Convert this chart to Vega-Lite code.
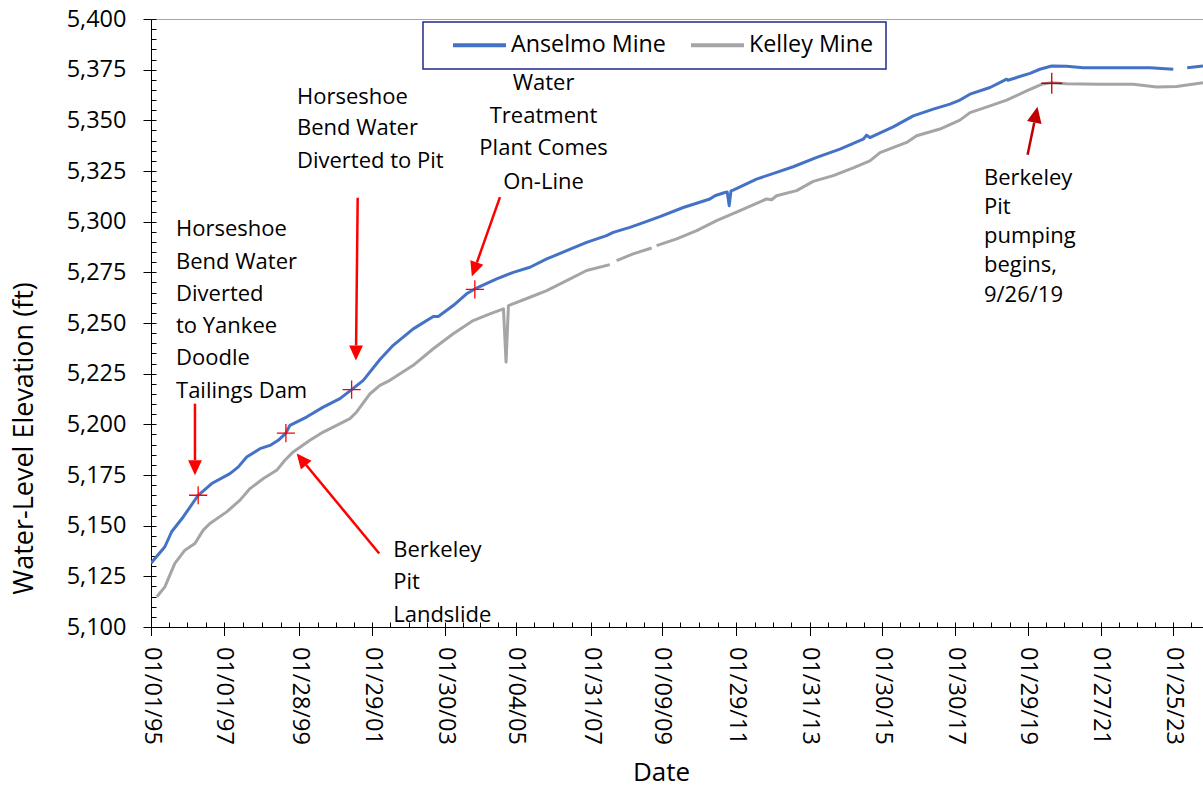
{
  "$schema": "https://vega.github.io/schema/vega-lite/v6.json",
  "width": 1052,
  "height": 608,
  "autosize": {"type": "none"},
  "padding": {"left": 151, "top": 19, "right": 0, "bottom": 160},
  "config": {
    "view": {"stroke": null},
    "font": "Open Sans",
    "axis": {"labelFont": "Open Sans", "titleFont": "Open Sans", "labelColor": "#000", "titleColor": "#000", "tickColor": "#000", "domainColor": "#000", "grid": false}
  },
  "datasets": {
    "levels": [
      {"date": "1995-01-01", "mine": "Anselmo Mine", "elev": 5131.5},
      {"date": "1995-05-20", "mine": "Anselmo Mine", "elev": 5139.6},
      {"date": "1995-07-27", "mine": "Anselmo Mine", "elev": 5147.0},
      {"date": "1995-11-20", "mine": "Anselmo Mine", "elev": 5154.3},
      {"date": "1996-04-18", "mine": "Anselmo Mine", "elev": 5165.0},
      {"date": "1996-09-01", "mine": "Anselmo Mine", "elev": 5170.8},
      {"date": "1997-03-03", "mine": "Anselmo Mine", "elev": 5175.7},
      {"date": "1997-05-26", "mine": "Anselmo Mine", "elev": 5179.0},
      {"date": "1997-08-18", "mine": "Anselmo Mine", "elev": 5183.9},
      {"date": "1997-12-29", "mine": "Anselmo Mine", "elev": 5188.0},
      {"date": "1998-04-08", "mine": "Anselmo Mine", "elev": 5189.6},
      {"date": "1998-06-30", "mine": "Anselmo Mine", "elev": 5192.1},
      {"date": "1998-09-15", "mine": "Anselmo Mine", "elev": 5195.7},
      {"date": "1998-10-25", "mine": "Anselmo Mine", "elev": 5199.5},
      {"date": "1999-04-10", "mine": "Anselmo Mine", "elev": 5203.6},
      {"date": "1999-09-24", "mine": "Anselmo Mine", "elev": 5208.5},
      {"date": "2000-03-10", "mine": "Anselmo Mine", "elev": 5212.7},
      {"date": "2000-07-05", "mine": "Anselmo Mine", "elev": 5217.1},
      {"date": "2000-10-30", "mine": "Anselmo Mine", "elev": 5221.7},
      {"date": "2001-04-15", "mine": "Anselmo Mine", "elev": 5232.0},
      {"date": "2001-08-26", "mine": "Anselmo Mine", "elev": 5239.0},
      {"date": "2002-03-15", "mine": "Anselmo Mine", "elev": 5247.1},
      {"date": "2002-10-02", "mine": "Anselmo Mine", "elev": 5253.2},
      {"date": "2002-11-21", "mine": "Anselmo Mine", "elev": 5253.2},
      {"date": "2003-04-20", "mine": "Anselmo Mine", "elev": 5258.6},
      {"date": "2003-09-01", "mine": "Anselmo Mine", "elev": 5264.4},
      {"date": "2003-11-23", "mine": "Anselmo Mine", "elev": 5266.8},
      {"date": "2004-06-29", "mine": "Anselmo Mine", "elev": 5271.8},
      {"date": "2004-12-13", "mine": "Anselmo Mine", "elev": 5275.0},
      {"date": "2005-05-29", "mine": "Anselmo Mine", "elev": 5277.5},
      {"date": "2005-11-13", "mine": "Anselmo Mine", "elev": 5281.6},
      {"date": "2006-06-01", "mine": "Anselmo Mine", "elev": 5285.7},
      {"date": "2006-12-18", "mine": "Anselmo Mine", "elev": 5289.8},
      {"date": "2007-07-06", "mine": "Anselmo Mine", "elev": 5293.1},
      {"date": "2007-09-11", "mine": "Anselmo Mine", "elev": 5294.7},
      {"date": "2008-02-25", "mine": "Anselmo Mine", "elev": 5297.2},
      {"date": "2008-06-04", "mine": "Anselmo Mine", "elev": 5298.9},
      {"date": "2008-12-22", "mine": "Anselmo Mine", "elev": 5302.5},
      {"date": "2009-08-13", "mine": "Anselmo Mine", "elev": 5307.0},
      {"date": "2010-05-08", "mine": "Anselmo Mine", "elev": 5311.2},
      {"date": "2010-06-27", "mine": "Anselmo Mine", "elev": 5312.8},
      {"date": "2010-10-05", "mine": "Anselmo Mine", "elev": 5314.4},
      {"date": "2010-10-28", "mine": "Anselmo Mine", "elev": 5314.6},
      {"date": "2010-11-17", "mine": "Anselmo Mine", "elev": 5307.9},
      {"date": "2010-12-05", "mine": "Anselmo Mine", "elev": 5315.2},
      {"date": "2010-12-27", "mine": "Anselmo Mine", "elev": 5315.6},
      {"date": "2011-08-18", "mine": "Anselmo Mine", "elev": 5321.0},
      {"date": "2012-03-06", "mine": "Anselmo Mine", "elev": 5324.3},
      {"date": "2012-08-20", "mine": "Anselmo Mine", "elev": 5327.1},
      {"date": "2013-04-13", "mine": "Anselmo Mine", "elev": 5331.7},
      {"date": "2013-12-02", "mine": "Anselmo Mine", "elev": 5335.8},
      {"date": "2014-07-23", "mine": "Anselmo Mine", "elev": 5340.7},
      {"date": "2014-08-26", "mine": "Anselmo Mine", "elev": 5342.7},
      {"date": "2014-09-28", "mine": "Anselmo Mine", "elev": 5341.5},
      {"date": "2015-05-20", "mine": "Anselmo Mine", "elev": 5346.8},
      {"date": "2015-12-07", "mine": "Anselmo Mine", "elev": 5352.2},
      {"date": "2016-06-25", "mine": "Anselmo Mine", "elev": 5355.5},
      {"date": "2016-12-09", "mine": "Anselmo Mine", "elev": 5358.0},
      {"date": "2017-03-19", "mine": "Anselmo Mine", "elev": 5360.0},
      {"date": "2017-06-28", "mine": "Anselmo Mine", "elev": 5362.9},
      {"date": "2018-01-15", "mine": "Anselmo Mine", "elev": 5366.2},
      {"date": "2018-05-28", "mine": "Anselmo Mine", "elev": 5369.5},
      {"date": "2018-07-01", "mine": "Anselmo Mine", "elev": 5370.3},
      {"date": "2018-07-14", "mine": "Anselmo Mine", "elev": 5369.8},
      {"date": "2019-02-20", "mine": "Anselmo Mine", "elev": 5373.2},
      {"date": "2019-05-30", "mine": "Anselmo Mine", "elev": 5375.2},
      {"date": "2019-09-25", "mine": "Anselmo Mine", "elev": 5376.8},
      {"date": "2020-02-22", "mine": "Anselmo Mine", "elev": 5376.7},
      {"date": "2020-08-07", "mine": "Anselmo Mine", "elev": 5376.0},
      {"date": "2021-07-08", "mine": "Anselmo Mine", "elev": 5376.0},
      {"date": "2022-06-07", "mine": "Anselmo Mine", "elev": 5376.0},
      {"date": "2023-01-27", "mine": "Anselmo Mine", "elev": 5375.2},
      {"date": "2023-03-30", "mine": "Anselmo Mine", "elev": null},
      {"date": "2023-06-16", "mine": "Anselmo Mine", "elev": 5376.0},
      {"date": "2023-11-21", "mine": "Anselmo Mine", "elev": 5376.8},
      {"date": "1995-03-01", "mine": "Kelley Mine", "elev": 5114.9},
      {"date": "1995-05-20", "mine": "Kelley Mine", "elev": 5119.8},
      {"date": "1995-08-28", "mine": "Kelley Mine", "elev": 5131.4},
      {"date": "1995-12-07", "mine": "Kelley Mine", "elev": 5137.9},
      {"date": "1996-03-16", "mine": "Kelley Mine", "elev": 5141.2},
      {"date": "1996-06-08", "mine": "Kelley Mine", "elev": 5147.8},
      {"date": "1996-08-14", "mine": "Kelley Mine", "elev": 5151.1},
      {"date": "1997-01-29", "mine": "Kelley Mine", "elev": 5156.8},
      {"date": "1997-06-12", "mine": "Kelley Mine", "elev": 5162.6},
      {"date": "1997-09-20", "mine": "Kelley Mine", "elev": 5168.3},
      {"date": "1998-02-01", "mine": "Kelley Mine", "elev": 5173.3},
      {"date": "1998-06-14", "mine": "Kelley Mine", "elev": 5177.3},
      {"date": "1998-09-05", "mine": "Kelley Mine", "elev": 5182.3},
      {"date": "1998-11-27", "mine": "Kelley Mine", "elev": 5186.4},
      {"date": "1999-05-14", "mine": "Kelley Mine", "elev": 5192.1},
      {"date": "1999-09-24", "mine": "Kelley Mine", "elev": 5196.2},
      {"date": "2000-02-06", "mine": "Kelley Mine", "elev": 5199.5},
      {"date": "2000-06-18", "mine": "Kelley Mine", "elev": 5202.8},
      {"date": "2000-08-25", "mine": "Kelley Mine", "elev": 5206.1},
      {"date": "2001-01-06", "mine": "Kelley Mine", "elev": 5215.1},
      {"date": "2001-04-15", "mine": "Kelley Mine", "elev": 5219.2},
      {"date": "2001-07-24", "mine": "Kelley Mine", "elev": 5221.7},
      {"date": "2002-03-15", "mine": "Kelley Mine", "elev": 5229.1},
      {"date": "2002-10-02", "mine": "Kelley Mine", "elev": 5237.3},
      {"date": "2003-04-20", "mine": "Kelley Mine", "elev": 5244.7},
      {"date": "2003-11-06", "mine": "Kelley Mine", "elev": 5251.2},
      {"date": "2004-04-22", "mine": "Kelley Mine", "elev": 5254.5},
      {"date": "2004-09-05", "mine": "Kelley Mine", "elev": 5257.0},
      {"date": "2004-10-01", "mine": "Kelley Mine", "elev": 5230.7},
      {"date": "2004-10-25", "mine": "Kelley Mine", "elev": 5258.6},
      {"date": "2005-05-29", "mine": "Kelley Mine", "elev": 5262.7},
      {"date": "2005-11-13", "mine": "Kelley Mine", "elev": 5266.0},
      {"date": "2006-06-01", "mine": "Kelley Mine", "elev": 5270.9},
      {"date": "2006-12-18", "mine": "Kelley Mine", "elev": 5275.9},
      {"date": "2007-08-08", "mine": "Kelley Mine", "elev": 5278.8},
      {"date": "2007-09-10", "mine": "Kelley Mine", "elev": null},
      {"date": "2007-10-15", "mine": "Kelley Mine", "elev": 5280.8},
      {"date": "2008-03-28", "mine": "Kelley Mine", "elev": 5284.1},
      {"date": "2008-09-30", "mine": "Kelley Mine", "elev": 5287.0},
      {"date": "2008-10-25", "mine": "Kelley Mine", "elev": null},
      {"date": "2008-11-19", "mine": "Kelley Mine", "elev": 5288.2},
      {"date": "2009-06-08", "mine": "Kelley Mine", "elev": 5291.5},
      {"date": "2009-12-26", "mine": "Kelley Mine", "elev": 5295.6},
      {"date": "2010-07-14", "mine": "Kelley Mine", "elev": 5300.5},
      {"date": "2011-03-05", "mine": "Kelley Mine", "elev": 5305.4},
      {"date": "2011-11-27", "mine": "Kelley Mine", "elev": 5311.2},
      {"date": "2012-01-17", "mine": "Kelley Mine", "elev": 5310.8},
      {"date": "2012-03-06", "mine": "Kelley Mine", "elev": 5312.8},
      {"date": "2012-09-23", "mine": "Kelley Mine", "elev": 5315.3},
      {"date": "2013-03-09", "mine": "Kelley Mine", "elev": 5319.9},
      {"date": "2013-09-26", "mine": "Kelley Mine", "elev": 5322.7},
      {"date": "2014-04-14", "mine": "Kelley Mine", "elev": 5326.5},
      {"date": "2014-09-28", "mine": "Kelley Mine", "elev": 5330.0},
      {"date": "2015-01-08", "mine": "Kelley Mine", "elev": 5334.1},
      {"date": "2015-10-02", "mine": "Kelley Mine", "elev": 5339.1},
      {"date": "2016-01-10", "mine": "Kelley Mine", "elev": 5342.4},
      {"date": "2016-08-31", "mine": "Kelley Mine", "elev": 5345.7},
      {"date": "2017-03-19", "mine": "Kelley Mine", "elev": 5350.1},
      {"date": "2017-06-28", "mine": "Kelley Mine", "elev": 5353.8},
      {"date": "2018-01-15", "mine": "Kelley Mine", "elev": 5357.1},
      {"date": "2018-07-01", "mine": "Kelley Mine", "elev": 5360.0},
      {"date": "2019-01-17", "mine": "Kelley Mine", "elev": 5364.5},
      {"date": "2019-06-16", "mine": "Kelley Mine", "elev": 5367.8},
      {"date": "2019-09-25", "mine": "Kelley Mine", "elev": 5368.6},
      {"date": "2020-02-22", "mine": "Kelley Mine", "elev": 5368.1},
      {"date": "2021-01-22", "mine": "Kelley Mine", "elev": 5367.8},
      {"date": "2021-12-21", "mine": "Kelley Mine", "elev": 5367.8},
      {"date": "2022-08-13", "mine": "Kelley Mine", "elev": 5366.5},
      {"date": "2023-03-01", "mine": "Kelley Mine", "elev": 5366.7},
      {"date": "2023-11-21", "mine": "Kelley Mine", "elev": 5368.6}
    ],
    "markers": [
      {"event": "Yankee Doodle diversion", "date": "1996-04-18", "elev": 5165.0},
      {"event": "Landslide", "date": "1998-09-15", "elev": 5195.7},
      {"event": "Pit diversion", "date": "2000-07-05", "elev": 5217.1},
      {"event": "Treatment plant", "date": "2003-11-23", "elev": 5266.6},
      {"event": "Pumping", "date": "2019-09-26", "elev": 5368.3}
    ],
    "arrows": [
      {"event": "Yankee Doodle diversion", "tailDate": "1996-03-17", "tailElev": 5210.2, "baseDate": "1996-03-17", "baseElev": 5182.3, "tipDate": "1996-03-17", "tipElev": 5174.9},
      {"event": "Pit diversion", "tailDate": "2000-09-04", "tailElev": 5311.8, "baseDate": "2000-08-19", "baseElev": 5238.9, "tipDate": "2000-08-17", "tipElev": 5231.5},
      {"event": "Treatment plant", "tailDate": "2004-08-01", "tailElev": 5312.1, "baseDate": "2003-12-13", "baseElev": 5279.8, "tipDate": "2003-10-24", "tipElev": 5272.9},
      {"event": "Landslide", "tailDate": "2001-04-08", "tailElev": 5136.3, "baseDate": "1999-04-06", "baseElev": 5179.9, "tipDate": "1999-01-01", "tipElev": 5185.6},
      {"event": "Pumping", "tailDate": "2019-01-27", "tailElev": 5333.0, "baseDate": "2019-04-04", "baseElev": 5348.9, "tipDate": "2019-05-06", "tipElev": 5356.7}
    ],
    "notesLeft": [
      {"label": "Horseshoe", "date": "1995-09-09", "elev": 5296.3},
      {"label": "Bend Water", "date": "1995-09-09", "elev": 5280.3},
      {"label": "Diverted", "date": "1995-09-09", "elev": 5264.4},
      {"label": "to Yankee", "date": "1995-09-09", "elev": 5248.4},
      {"label": "Doodle", "date": "1995-09-09", "elev": 5232.5},
      {"label": "Tailings Dam", "date": "1995-09-09", "elev": 5216.5},
      {"label": "Horseshoe", "date": "1999-01-04", "elev": 5361.5},
      {"label": "Bend Water", "date": "1999-01-04", "elev": 5346.0},
      {"label": "Diverted to Pit", "date": "1999-01-04", "elev": 5329.9},
      {"label": "Berkeley", "date": "2001-08-26", "elev": 5138.1},
      {"label": "Pit", "date": "2001-08-26", "elev": 5122.1},
      {"label": "Landslide", "date": "2001-08-26", "elev": 5105.9},
      {"label": "Berkeley", "date": "2017-11-15", "elev": 5321.7},
      {"label": "Pit", "date": "2017-11-15", "elev": 5307.2},
      {"label": "pumping", "date": "2017-11-15", "elev": 5292.8},
      {"label": "begins,", "date": "2017-11-15", "elev": 5278.4},
      {"label": "9/26/19", "date": "2017-11-15", "elev": 5263.9}
    ],
    "notesCenter": [
      {"label": "Water", "date": "2005-10-12", "elev": 5368.4},
      {"label": "Treatment", "date": "2005-10-12", "elev": 5352.2},
      {"label": "Plant Comes", "date": "2005-10-12", "elev": 5336.2},
      {"label": "On-Line", "date": "2005-10-12", "elev": 5319.8}
    ]
  },
  "resolve": {"axis": {"x": "independent", "y": "independent"}},
  "layer": [
    {
      "data": {"name": "levels"},
      "mark": {"type": "line", "strokeWidth": 3, "clip": true, "strokeJoin": "round", "invalid": "break-paths-show-domains"},
      "encoding": {
        "x": {
          "field": "date", "type": "temporal",
          "scale": {"type": "utc", "domain": [{"year": 1995, "month": 1, "date": 1, "utc": true}, {"year": 2023, "month": 11, "date": 21, "utc": true}]},
          "axis": {
            "orient": "bottom",
            "values": [
              {"year": 1995, "month": 1, "date": 1, "utc": true},
              {"year": 1997, "month": 1, "date": 1, "utc": true},
              {"year": 1999, "month": 1, "date": 28, "utc": true},
              {"year": 2001, "month": 1, "date": 29, "utc": true},
              {"year": 2003, "month": 1, "date": 30, "utc": true},
              {"year": 2005, "month": 1, "date": 4, "utc": true},
              {"year": 2007, "month": 1, "date": 31, "utc": true},
              {"year": 2009, "month": 1, "date": 9, "utc": true},
              {"year": 2011, "month": 1, "date": 29, "utc": true},
              {"year": 2013, "month": 1, "date": 31, "utc": true},
              {"year": 2015, "month": 1, "date": 30, "utc": true},
              {"year": 2017, "month": 1, "date": 30, "utc": true},
              {"year": 2019, "month": 1, "date": 29, "utc": true},
              {"year": 2021, "month": 1, "date": 27, "utc": true},
              {"year": 2023, "month": 1, "date": 25, "utc": true}
            ],
            "format": "%m/%d/%y",
            "labelAngle": 90, "labelAlign": "left", "labelBaseline": "middle",
            "labelFontSize": 23.5, "labelPadding": 11, "labelOverlap": false, "labelFlush": false, "labelBound": false,
            "tickSize": 8.5, "tickWidth": 1, "domainWidth": 1,
            "title": "Date", "titleFontSize": 26, "titleFontWeight": "normal",
            "titleX": 510, "titleY": 145, "titleAlign": "center", "titleBaseline": "middle", "titleAngle": 0
          }
        },
        "y": {
          "field": "elev", "type": "quantitative",
          "scale": {"domain": [5100, 5400], "zero": false, "nice": false},
          "axis": {
            "orient": "left",
            "values": [5100, 5125, 5150, 5175, 5200, 5225, 5250, 5275, 5300, 5325, 5350, 5375, 5400],
            "format": ",.0f",
            "labelFontSize": 23.5, "labelPadding": 17, "labelFlush": false, "labelOverlap": false,
            "tickSize": 8, "tickWidth": 1, "domainWidth": 1,
            "title": "Water-Level Elevation (ft)", "titleFontSize": 27, "titleFontWeight": "normal",
            "titleX": -127, "titleY": 419, "titleAngle": 270, "titleAlign": "center", "titleBaseline": "middle"
          }
        },
        "color": {
          "field": "mine", "type": "nominal",
          "scale": {"domain": ["Anselmo Mine", "Kelley Mine"], "range": ["#4472C4", "#A5A5A5"]},
          "legend": {
            "title": null, "orient": "none", "legendX": 272, "legendY": 3, "direction": "horizontal",
            "symbolType": "stroke", "symbolSize": 2809, "symbolStrokeWidth": 4,
            "labelFont": "Open Sans", "labelFontSize": 23.3, "labelColor": "#000", "labelLimit": 400,
            "strokeColor": "#1F2A8C", "padding": 12, "clipHeight": 22, "symbolOffset": 16, "labelOffset": 3, "columnPadding": 7,
            "encode": {"legend": {"update": {"strokeWidth": {"value": 1.5}}}}
          }
        }
      }
    },
    {
      "data": {"name": "markers"},
      "mark": {"type": "point", "shape": "M-1,0H1M0,-1V1", "filled": false, "opacity": 1, "strokeWidth": 1.3},
      "encoding": {
        "x": {
          "field": "date", "type": "temporal", "scale": {"type": "utc"},
          "axis": {
            "orient": "bottom", "labels": false, "domain": false, "grid": false, "title": null, "tickSize": -5, "tickWidth": 1,
            "values": [
              {"year": 1995, "month": 1, "date": 1, "utc": true}, {"year": 1995, "month": 7, "date": 3, "utc": true}, {"year": 1996, "month": 1, "date": 1, "utc": true}, {"year": 1996, "month": 7, "date": 2, "utc": true},
              {"year": 1997, "month": 1, "date": 1, "utc": true}, {"year": 1997, "month": 7, "date": 9, "utc": true}, {"year": 1998, "month": 1, "date": 14, "utc": true}, {"year": 1998, "month": 7, "date": 23, "utc": true},
              {"year": 1999, "month": 1, "date": 28, "utc": true}, {"year": 1999, "month": 7, "date": 30, "utc": true}, {"year": 2000, "month": 1, "date": 28, "utc": true}, {"year": 2000, "month": 7, "date": 29, "utc": true},
              {"year": 2001, "month": 1, "date": 29, "utc": true}, {"year": 2001, "month": 7, "date": 30, "utc": true}, {"year": 2002, "month": 1, "date": 29, "utc": true}, {"year": 2002, "month": 7, "date": 31, "utc": true},
              {"year": 2003, "month": 1, "date": 30, "utc": true}, {"year": 2003, "month": 7, "date": 25, "utc": true}, {"year": 2004, "month": 1, "date": 17, "utc": true}, {"year": 2004, "month": 7, "date": 11, "utc": true},
              {"year": 2005, "month": 1, "date": 4, "utc": true}, {"year": 2005, "month": 7, "date": 12, "utc": true}, {"year": 2006, "month": 1, "date": 17, "utc": true}, {"year": 2006, "month": 7, "date": 25, "utc": true},
              {"year": 2007, "month": 1, "date": 31, "utc": true}, {"year": 2007, "month": 7, "date": 27, "utc": true}, {"year": 2008, "month": 1, "date": 20, "utc": true}, {"year": 2008, "month": 7, "date": 15, "utc": true},
              {"year": 2009, "month": 1, "date": 9, "utc": true}, {"year": 2009, "month": 7, "date": 15, "utc": true}, {"year": 2010, "month": 1, "date": 18, "utc": true}, {"year": 2010, "month": 7, "date": 24, "utc": true},
              {"year": 2011, "month": 1, "date": 29, "utc": true}, {"year": 2011, "month": 7, "date": 31, "utc": true}, {"year": 2012, "month": 1, "date": 30, "utc": true}, {"year": 2012, "month": 7, "date": 31, "utc": true},
              {"year": 2013, "month": 1, "date": 31, "utc": true}, {"year": 2013, "month": 8, "date": 1, "utc": true}, {"year": 2014, "month": 1, "date": 30, "utc": true}, {"year": 2014, "month": 7, "date": 31, "utc": true},
              {"year": 2015, "month": 1, "date": 30, "utc": true}, {"year": 2015, "month": 7, "date": 31, "utc": true}, {"year": 2016, "month": 1, "date": 30, "utc": true}, {"year": 2016, "month": 7, "date": 30, "utc": true},
              {"year": 2017, "month": 1, "date": 30, "utc": true}, {"year": 2017, "month": 7, "date": 31, "utc": true}, {"year": 2018, "month": 1, "date": 29, "utc": true}, {"year": 2018, "month": 7, "date": 30, "utc": true},
              {"year": 2019, "month": 1, "date": 29, "utc": true}, {"year": 2019, "month": 7, "date": 30, "utc": true}, {"year": 2020, "month": 1, "date": 28, "utc": true}, {"year": 2020, "month": 7, "date": 28, "utc": true},
              {"year": 2021, "month": 1, "date": 27, "utc": true}, {"year": 2021, "month": 7, "date": 28, "utc": true}, {"year": 2022, "month": 1, "date": 26, "utc": true}, {"year": 2022, "month": 7, "date": 27, "utc": true},
              {"year": 2023, "month": 1, "date": 25, "utc": true}, {"year": 2023, "month": 7, "date": 26, "utc": true}
            ]
          }
        },
        "y": {
          "field": "elev", "type": "quantitative",
          "axis": {"orient": "left", "labels": false, "domain": false, "grid": false, "title": null, "tickSize": -5, "tickWidth": 1, "tickCount": 60}
        },
        "color": {"condition": {"test": "datum.event === 'Pumping'", "value": "#C00000"}, "value": "#FF0000"},
        "size": {"condition": {"test": "datum.event === 'Pumping'", "value": 441}, "value": 330}
      }
    },
    {
      "data": {"name": "arrows"},
      "mark": {"type": "rule", "strokeWidth": 2.5},
      "encoding": {
        "x": {"field": "tailDate", "type": "temporal", "scale": {"type": "utc"},
              "axis": {"orient": "top", "labels": false, "ticks": false, "grid": false, "title": null, "domain": true, "domainColor": "#A6A6A6", "domainWidth": 1}},
        "x2": {"field": "baseDate"},
        "y": {"field": "tailElev", "type": "quantitative", "axis": null},
        "y2": {"field": "baseElev"},
        "color": {"condition": {"test": "datum.event === 'Pumping'", "value": "#C00000"}, "value": "#FF0000"}
      }
    },
    {
      "data": {"name": "arrows"},
      "mark": {"type": "point", "shape": "M0,0L-0.46,-1L0.46,-1Z", "filled": true, "opacity": 1, "strokeWidth": 0},
      "encoding": {
        "x": {"field": "tipDate", "type": "temporal", "scale": {"type": "utc"}, "axis": null},
        "y": {"field": "tipElev", "type": "quantitative", "axis": null},
        "angle": {"condition": [
          {"test": "datum.event === 'Pit diversion'", "value": 0.6},
          {"test": "datum.event === 'Treatment plant'", "value": 19.4},
          {"test": "datum.event === 'Landslide'", "value": 140.4},
          {"test": "datum.event === 'Pumping'", "value": 191.5}
        ], "value": 0},
        "size": {"condition": {"test": "datum.event === 'Pumping'", "value": 1024}, "value": 900},
        "color": {"condition": {"test": "datum.event === 'Pumping'", "value": "#C00000"}, "value": "#FF0000"}
      }
    },
    {
      "data": {"name": "notesLeft"},
      "mark": {"type": "text", "align": "left", "baseline": "middle", "font": "Open Sans", "fontSize": 22, "color": "#000"},
      "encoding": {
        "x": {"field": "date", "type": "temporal", "scale": {"type": "utc"}, "axis": null},
        "y": {"field": "elev", "type": "quantitative", "axis": null},
        "text": {"field": "label"}
      }
    },
    {
      "data": {"name": "notesCenter"},
      "mark": {"type": "text", "align": "center", "baseline": "middle", "font": "Open Sans", "fontSize": 22, "color": "#000"},
      "encoding": {
        "x": {"field": "date", "type": "temporal", "scale": {"type": "utc"}, "axis": null},
        "y": {"field": "elev", "type": "quantitative", "axis": null},
        "text": {"field": "label"}
      }
    }
  ]
}
